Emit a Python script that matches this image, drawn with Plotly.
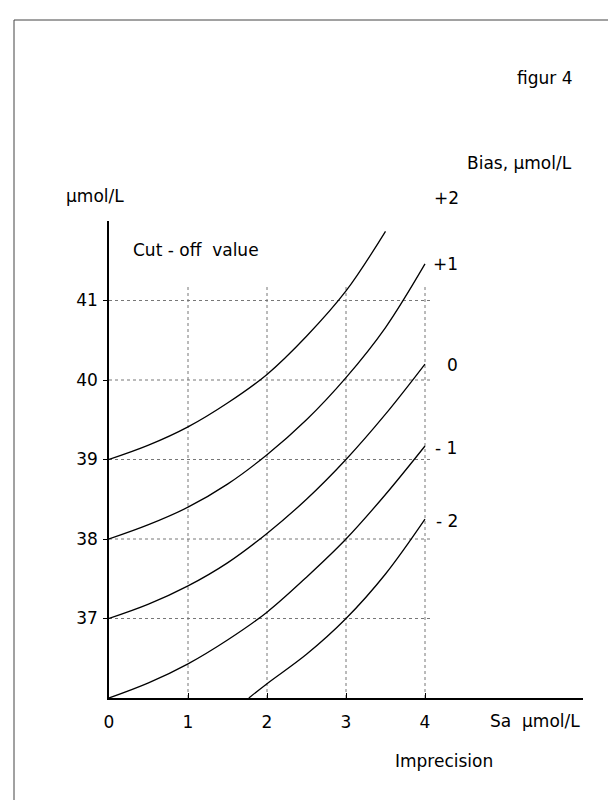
import plotly.graph_objects as go

# Imprecision Sa (µmol/L)
sa_full = [0, 0.5, 1, 1.5, 2, 2.5, 3, 3.5, 4]
sa_plus2 = [0, 0.5, 1, 1.5, 2, 2.5, 3, 3.5]
sa_minus2 = [1.77, 2, 2.5, 3, 3.5, 4]

# Cut-off values (µmol/L) per bias curve
cut_plus2 = [39.0, 39.18, 39.41, 39.71, 40.07, 40.55, 41.12, 41.87]
cut_plus1 = [38.0, 38.18, 38.40, 38.69, 39.06, 39.50, 40.03, 40.66, 41.46]
cut_zero = [37.0, 37.18, 37.41, 37.70, 38.07, 38.50, 39.00, 39.57, 40.20]
cut_minus1 = [36.0, 36.19, 36.43, 36.73, 37.08, 37.52, 38.00, 38.56, 39.17]
cut_minus2 = [36.0, 36.18, 36.55, 37.00, 37.56, 38.25]

bias_labels = ["+2", "+1", "0", "- 1", "- 2"]

x_ticks = [0, 1, 2, 3, 4]
y_ticks = [37, 38, 39, 40, 41]

FONT = "DejaVu Sans"
FS = 17

# plot area in pixels (for placing free text in paper coordinates)
L, R, T, B = 101, 575, 213, 690


def px(x, y):
    return (x - L) / (R - L), (B - y) / (B - T)


fig = go.Figure()
series = [
    (sa_plus2, cut_plus2),
    (sa_full, cut_plus1),
    (sa_full, cut_zero),
    (sa_full, cut_minus1),
    (sa_minus2, cut_minus2),
]
for xs, ys in series:
    fig.add_trace(go.Scatter(x=xs, y=ys, mode="lines",
                             line=dict(color="black", width=1.3, shape="spline", smoothing=1.0),
                             showlegend=False, hoverinfo="skip"))

shapes = []
# dotted grid lines
for v in x_ticks[1:]:
    shapes.append(dict(type="line", xref="x", yref="y", x0=v, x1=v, y0=36, y1=41.2,
                       line=dict(color="#777", width=1, dash="dot"), layer="below"))
for v in y_ticks:
    shapes.append(dict(type="line", xref="x", yref="y", x0=0, x1=4.1, y0=v, y1=v,
                       line=dict(color="#777", width=1, dash="dot"), layer="below"))
# page frame (top and left edges)
fx0, fy0 = px(6, 12)
fx1, fy1 = px(616, 800)
shapes.append(dict(type="line", xref="paper", yref="paper", x0=fx0, x1=fx1, y0=fy0, y1=fy0,
                   line=dict(color="#444", width=1)))
shapes.append(dict(type="line", xref="paper", yref="paper", x0=fx0, x1=fx0, y0=fy0, y1=fy1,
                   line=dict(color="#444", width=1)))

annotations = []


def txt(x, y, t, anchor="center"):
    ax, ay = px(x, y)
    annotations.append(dict(x=ax, y=ay, xref="paper", yref="paper", text=t, showarrow=False,
                            xanchor=anchor, yanchor="middle", font=dict(size=FS)))


label_px = [(438, 190), (437, 256), (444, 357), (438, 440), (439, 513)]
for lab, (lx, ly) in zip(bias_labels, label_px):
    txt(lx, ly, lab)

txt(536, 70, "figur 4")
txt(511, 155, "Bias, µmol/L")
txt(56, 188, "µmol/L", anchor="left")
txt(123, 242, "Cut - off  value", anchor="left")
txt(527, 713, "Sa  µmol/L")
txt(436, 753, "Imprecision")

fig.update_layout(
    width=616, height=800,
    margin=dict(l=L, r=616 - R, t=T, b=800 - B),
    paper_bgcolor="white", plot_bgcolor="white",
    font=dict(family=FONT, size=FS, color="black"),
    shapes=shapes, annotations=annotations,
    xaxis=dict(range=[0, 6], showgrid=False, zeroline=False, showline=True,
               linecolor="black", linewidth=1.5, tickvals=x_ticks,
               ticktext=[str(v) for v in x_ticks], ticks="inside", ticklen=5,
               tickcolor="black", ticklabelstandoff=8),
    yaxis=dict(range=[36, 42], showgrid=False, zeroline=False, showline=True,
               linecolor="black", linewidth=1.5, tickvals=y_ticks,
               ticktext=[str(v) for v in y_ticks], ticks="outside", ticklen=4,
               tickcolor="black", ticklabelstandoff=2),
)

fig.write_html("out.html")
